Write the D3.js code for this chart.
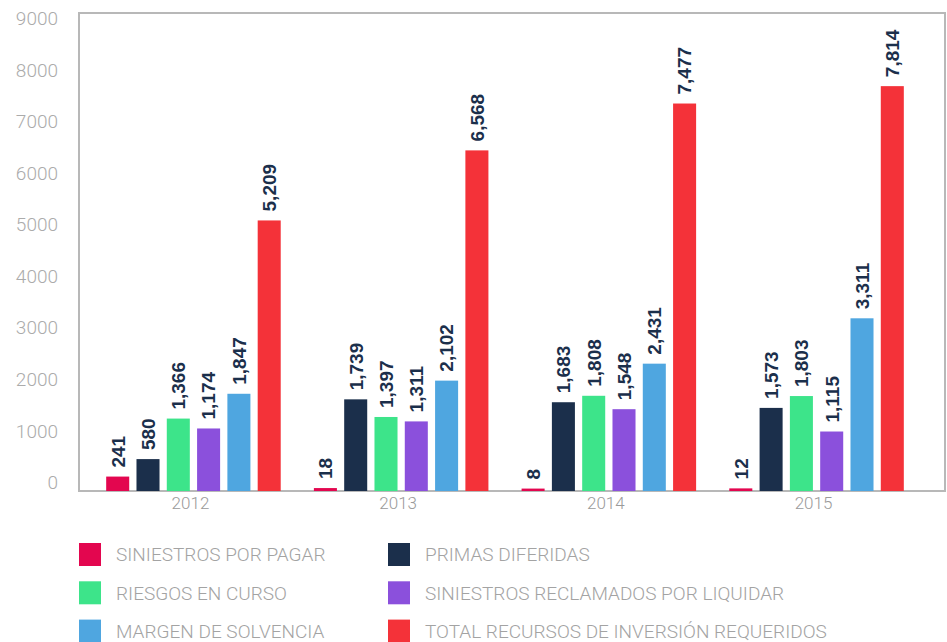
<!DOCTYPE html>
<html>
<head>
<meta charset="utf-8">
<script src="https://cdn.jsdelivr.net/npm/d3@7"></script>
<style>
  body { margin: 0; background: #fff; }
  svg { display: block; }
</style>
</head>
<body>
<script>
// DATA
const years = ["2012", "2013", "2014", "2015"];
const seriesNames = [
  "SINIESTROS POR PAGAR",
  "PRIMAS DIFERIDAS",
  "RIESGOS EN CURSO",
  "SINIESTROS RECLAMADOS POR LIQUIDAR",
  "MARGEN DE SOLVENCIA",
  "TOTAL RECURSOS DE INVERSIÓN REQUERIDOS"
];
const seriesColors = ["#e3064f", "#1b2f4b", "#3de48a", "#8b50dc", "#4fa6e0", "#f43239"];
// values per series, one per year
const siniestrosPagar = [241, 18, 8, 12];
const primasDiferidas = [580, 1739, 1683, 1573];
const riesgosCurso = [1366, 1397, 1808, 1803];
const siniestrosReclamados = [1174, 1311, 1548, 1115];
const margenSolvencia = [1847, 2102, 2431, 3311];
const totalRecursos = [5209, 6568, 7477, 7814];
const yTicks = [0, 1000, 2000, 3000, 4000, 5000, 6000, 7000, 8000, 9000];

const seriesValues = [siniestrosPagar, primasDiferidas, riesgosCurso,
  siniestrosReclamados, margenSolvencia, totalRecursos];

// flat table for drawing
const rows = [];
years.forEach((yr, i) => {
  seriesNames.forEach((s, j) => {
    rows.push({year: yr, series: s, value: seriesValues[j][i], color: seriesColors[j]});
  });
});

// SVG
const svg = d3.select("body").append("svg")
  .attr("width", 947)
  .attr("height", 642);

const frame = {left: 79, right: 945, top: 13, bottom: 491};

// scales
const x0 = d3.scaleBand()
  .domain(years)
  .range([89.6, 920.4]);

const x1 = d3.scaleBand()
  .domain(seriesNames)
  .range([12.95, x0.bandwidth() - 12.95])
  .paddingInner(0.24)
  .paddingOuter(0.12);

const y = d3.scaleLinear()
  .domain([0, 9000])
  .range([489, 25]);

// frame box
svg.append("rect")
  .attr("x", frame.left)
  .attr("y", frame.top)
  .attr("width", frame.right - frame.left)
  .attr("height", frame.bottom - frame.top)
  .attr("fill", "none")
  .attr("stroke", "#b8b8b8")
  .attr("stroke-width", 2);

// y axis labels
const yAxis = svg.append("g")
  .attr("transform", "translate(58,0)")
  .call(d3.axisLeft(y).tickValues(yTicks).tickFormat(d3.format("d")).tickSize(0).tickPadding(0));
yAxis.select(".domain").remove();
yAxis.selectAll("text")
  .attr("dy", "-0.02em")
  .attr("fill", "#ababab")
  .style("font-family", "Roboto, 'Liberation Sans', sans-serif")
  .style("font-weight", 300)
  .style("font-size", "19px");

// x axis labels
const xAxis = svg.append("g")
  .attr("transform", "translate(-3," + (frame.bottom + 6) + ")")
  .call(d3.axisBottom(x0).tickSize(0).tickPadding(0));
xAxis.select(".domain").remove();
xAxis.selectAll("text")
  .attr("fill", "#9a9a9a")
  .style("font-family", "Roboto, 'Liberation Sans', sans-serif")
  .style("font-weight", 300)
  .style("font-size", "17px");

// bars
const groups = svg.append("g")
  .selectAll("g")
  .data(years)
  .join("g")
  .attr("transform", d => "translate(" + x0(d) + ",0)");

groups.selectAll("rect")
  .data(yr => rows.filter(r => r.year === yr))
  .join("rect")
  .attr("x", d => x1(d.series))
  .attr("y", d => y(d.value))
  .attr("width", x1.bandwidth())
  .attr("height", d => frame.bottom - y(d.value))
  .attr("fill", d => d.color);

// value labels, rotated
groups.selectAll("text")
  .data(yr => rows.filter(r => r.year === yr))
  .join("text")
  .attr("transform", d => "translate(" + (x1(d.series) + x1.bandwidth() / 2) + "," + (y(d.value) - 9) + ") rotate(-90)")
  .attr("dy", "0.36em")
  .attr("fill", "#1b2f4b")
  .style("font-family", "'Liberation Sans', Arial, sans-serif")
  .style("font-weight", "bold")
  .style("font-size", "19px")
  .text(d => d3.format(",")(d.value));

// legend
const legend = svg.append("g")
  .selectAll("g")
  .data(seriesNames)
  .join("g")
  .attr("transform", (d, i) => "translate(" + (i % 2 === 0 ? 79 : 388) + "," + (543 + Math.floor(i / 2) * 38.3) + ")");

legend.append("rect")
  .attr("width", 22)
  .attr("height", 23)
  .attr("fill", (d, i) => seriesColors[i]);

legend.append("text")
  .attr("x", 37)
  .attr("y", 11.5)
  .attr("dy", "0.36em")
  .attr("fill", "#a3a3a3")
  .style("font-family", "Roboto, 'Liberation Sans', sans-serif")
  .style("font-weight", 300)
  .style("font-size", "19px")
  .text(d => d);
</script>
</body>
</html>
